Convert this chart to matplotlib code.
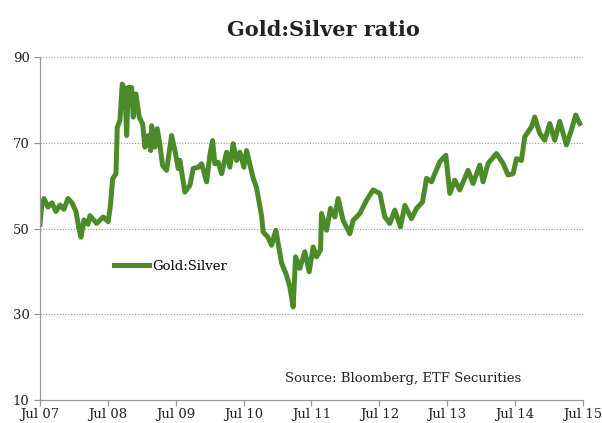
import matplotlib
matplotlib.use("Agg")
import matplotlib.pyplot as plt
from matplotlib.lines import Line2D

plt.rcParams.update({
    "font.family": "DejaVu Serif",
    "font.size": 9.5,
})

# months since Jul 2007, and the gold:silver ratio
months = [0, 0.35, 0.71, 1.41, 2.12, 2.83, 3.54, 4.24, 4.95, 5.66, 6.36, 6.89,
          7.25, 7.78, 8.49, 8.84, 10.02, 11.19, 12.07, 12.50, 12.85, 13.44,
          13.67, 14.14, 14.55, 15.03, 15.33, 15.61, 16.21, 16.49, 16.97, 17.56,
          18.16, 18.56, 19.15, 19.57, 19.75, 20.33, 20.74, 21.22, 21.69, 22.40,
          23.28, 23.87, 24.45, 24.75, 25.63, 26.52, 27.10, 27.99, 28.59, 29.47,
          30.05, 30.53, 30.94, 31.52, 32.12, 33.01, 33.59, 34.17, 34.77, 35.36,
          36.07, 36.54, 37.12, 37.66, 38.31, 39.19, 39.48, 40.31, 40.96, 41.72,
          42.73, 43.61, 44.20, 44.78, 45.21, 45.96, 46.85, 47.61, 48.32, 48.92,
          49.62, 49.80, 50.69, 51.39, 52.15, 52.74, 53.62, 54.81, 55.39, 56.57,
          57.76, 58.92, 60.11, 60.99, 61.87, 62.76, 63.76, 64.53, 65.71, 66.60,
          67.66, 68.37, 69.25, 69.83, 70.72, 71.78, 72.49, 73.37, 74.25, 75.72,
          76.60, 77.79, 78.37, 79.26, 80.74, 81.91, 82.79, 83.68, 84.28, 85.16,
          85.74, 86.93, 87.51, 88.39, 89.28, 90.16, 91.05, 91.93, 93.11, 94.00,
          94.76, 95.46]
ratio = [51, 56, 57, 55, 56, 54, 55.5, 54.5, 57, 56, 54, 50,
         48, 52, 51, 53, 51.2, 52.7, 51.6, 55.8, 61.6, 62.8,
         73.6, 75.2, 83.7, 82.2, 71.7, 82.9, 82.9, 76, 81.4, 76,
         74.4, 69, 71.7, 68.2, 74, 69, 73.3, 69.4, 64.7, 63.6,
         71.7, 68.2, 64, 65.9, 58.5, 60.1, 64, 64.3, 65.1, 60.9,
         67.1, 70.5, 65.1, 65.5, 62.8, 67.8, 64.3, 69.8, 65.9, 67.8,
         64.3, 68.2, 65, 62, 59.5, 53, 49.2, 48, 46.1, 49.6,
         42, 39.1, 36.4, 31.7, 43.4, 40.7, 44.6, 39.9, 45.7, 43.4,
         45, 53.5, 49.6, 54.7, 52.7, 57, 51.9, 48.8, 51.9, 53.5,
         56.6, 59, 58.2, 52.7, 51.2, 54.3, 50.4, 55.4, 52.3, 54.7,
         56.2, 61.7, 60.9, 62.8, 65.6, 67.1, 58.2, 61.3, 59, 63.6,
         60.5, 64.8, 60.9, 65.2, 67.5, 65.2, 62.5, 62.8, 66.3, 65.9,
         71.4, 73.7, 76, 72.2, 70.6, 74.5, 70.6, 75, 69.5, 73,
         76.5, 74.5]

tick_months = [0, 12, 24, 36, 48, 60, 72, 84, 96]
tick_labels = ["Jul 07", "Jul 08", "Jul 09", "Jul 10", "Jul 11",
               "Jul 12", "Jul 13", "Jul 14", "Jul 15"]
y_ticks = [10, 30, 50, 70, 90]

green = "#4b8b29"
grey = "#999999"

fig = plt.figure(figsize=(6.02, 4.23), dpi=100)
ax = fig.add_axes([0.0664, 0.0544, 0.9016, 0.8106])

ax.plot(months, ratio, color=green, lw=3.6, solid_joinstyle="round")

ax.set_xlim(0, 96)
ax.set_ylim(10, 90)
ax.set_xticks(tick_months)
ax.set_xticklabels(tick_labels)
ax.set_yticks(y_ticks)
for v in y_ticks[1:]:
    ax.axhline(v, color="#999999", lw=0.8, ls=(0, (1, 1.5)), zorder=0)

for s in ["top", "right"]:
    ax.spines[s].set_visible(False)
for s in ["left", "bottom"]:
    ax.spines[s].set_color(grey)
    ax.spines[s].set_linewidth(0.9)
ax.tick_params(colors=grey, labelcolor="#222222", length=4, width=0.9)
ax.tick_params(axis="x", pad=2)

fig.text(0.538, 0.928, "Gold:Silver ratio", ha="center", va="center",
         fontsize=15, fontweight="bold", color="#222222")

handle = Line2D([], [], color=green, lw=3.6)
ax.legend([handle], ["Gold:Silver"], loc="center left",
          bbox_to_anchor=(0.115, 0.39), frameon=False, handlelength=2.6,
          handletextpad=0.3, fontsize=9.5)

ax.text(0.67, 0.064, "Source: Bloomberg, ETF Securities", transform=ax.transAxes,
        ha="center", va="center", fontsize=9.5, color="#222222")

fig.savefig("out.png", dpi=100)
